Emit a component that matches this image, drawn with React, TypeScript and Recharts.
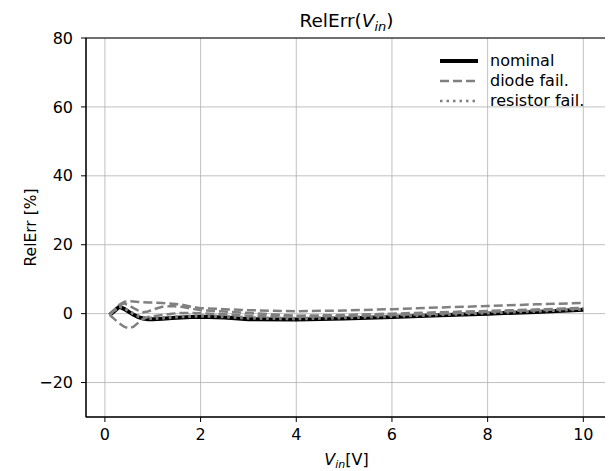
import React from 'react';
import { LineChart, Line, XAxis, YAxis, CartesianGrid } from 'recharts';

const xValues = [0.1, 0.2, 0.3, 0.4, 0.5, 0.6, 0.7, 0.8, 0.9, 1.0, 1.2, 1.4, 1.6, 1.8, 2.0, 2.5, 3, 4, 5, 6, 7, 8, 9, 10];
const nominal = [-0.4, 0.8, 2.0, 1.4, 0.5, -0.3, -1.0, -1.4, -1.6, -1.6, -1.5, -1.3, -1.1, -1.0, -0.9, -1.1, -1.6, -1.7, -1.4, -1.0, -0.5, 0.0, 0.5, 1.1];
const diodeA = [-0.4, 1.2, 2.6, 3.4, 3.6, 3.5, 3.4, 3.3, 3.2, 3.2, 3.1, 2.9, 2.6, 2.0, 1.6, 1.3, 1.0, 0.7, 0.9, 1.3, 1.8, 2.2, 2.7, 3.1];
const diodeB = [-0.4, -1.6, -2.8, -3.8, -4.3, -3.8, -2.6, -1.5, -1.0, -0.8, -0.4, 0.0, 0.2, 0.2, 0.1, -0.2, -0.6, -0.9, -0.7, -0.4, 0.0, 0.5, 1.0, 1.5];
const diodeC = [-0.4, 1.0, 2.3, 3.0, 2.4, 1.6, 0.9, 0.4, 0.6, 1.2, 2.0, 2.2, 2.0, 1.5, 1.0, 0.6, 0.2, -0.6, -0.4, 0.0, 0.4, 0.8, 1.2, 1.7];
const resistorA = [-0.4, 0.9, 2.1, 1.6, 0.8, 0.1, -0.6, -1.0, -1.2, -1.2, -1.1, -0.9, -0.7, -0.6, -0.5, -0.7, -1.1, -1.3, -1.0, -0.6, -0.2, 0.3, 0.8, 1.3];
const resistorB = [-0.4, 0.8, 2.0, 1.5, 0.6, -0.2, -0.9, -1.3, -1.5, -1.5, -1.4, -1.2, -1.0, -0.9, -0.8, -1.0, -1.4, -1.6, -1.3, -0.9, -0.4, 0.1, 0.6, 1.2];

const xTicks = [0, 2, 4, 6, 8, 10];
const yTicks = [-20, 0, 20, 40, 60, 80];
const xDomain = [-0.395, 10.495];
const yDomain = [-30, 80];

const legendItems = [
  { label: 'nominal', color: '#000000', width: 4, dash: undefined as string | undefined },
  { label: 'diode fail.', color: '#808080', width: 2.5, dash: '9 4' },
  { label: 'resistor fail.', color: '#808080', width: 2.5, dash: '2.5 4' },
];

const data = xValues.map((x, i) => ({
  x,
  nominal: nominal[i],
  diodeA: diodeA[i],
  diodeB: diodeB[i],
  diodeC: diodeC[i],
  resistorA: resistorA[i],
  resistorB: resistorB[i],
}));

const FONT = '"DejaVu Sans", sans-serif';
const W = 605;
const H = 463;
const PLOT = { left: 78, top: 30, right: 599, bottom: 409 };

const fmt = (v: number) => (v < 0 ? '\u2212' + Math.abs(v) : String(v));

export default function App() {
  return (
    <div style={{ position: 'relative', width: W, height: H, fontFamily: FONT }}>
      <LineChart
        width={W}
        height={H}
        data={data}
        margin={{ top: PLOT.top, right: W - PLOT.right, bottom: H - PLOT.bottom - 30, left: 0 }}
      >
        <CartesianGrid stroke="#b0b0b0" strokeWidth={0.8} />
        <XAxis
          dataKey="x"
          type="number"
          domain={xDomain}
          ticks={xTicks}
          allowDataOverflow
          height={30}
          tickFormatter={fmt}
          tick={{ fill: '#000', fontSize: 16, fontFamily: FONT }}
          tickSize={5}
          tickMargin={7}
          axisLine={{ stroke: '#000', strokeWidth: 1 }}
          tickLine={{ stroke: '#000', strokeWidth: 1 }}
        />
        <YAxis
          type="number"
          domain={yDomain}
          ticks={yTicks}
          allowDataOverflow
          width={PLOT.left}
          tickFormatter={fmt}
          tick={{ fill: '#000', fontSize: 16, fontFamily: FONT }}
          tickSize={5}
          tickMargin={8}
          axisLine={{ stroke: '#000', strokeWidth: 1 }}
          tickLine={{ stroke: '#000', strokeWidth: 1 }}
        />
        <Line dataKey="nominal" stroke="#000" strokeWidth={4} dot={false} isAnimationActive={false} type="linear" />
        <Line dataKey="diodeA" stroke="#808080" strokeWidth={2.5} strokeDasharray="9 4" dot={false} isAnimationActive={false} type="linear" />
        <Line dataKey="diodeB" stroke="#808080" strokeWidth={2.5} strokeDasharray="9 4" dot={false} isAnimationActive={false} type="linear" />
        <Line dataKey="diodeC" stroke="#808080" strokeWidth={2.5} strokeDasharray="9 4" dot={false} isAnimationActive={false} type="linear" />
        <Line dataKey="resistorA" stroke="#808080" strokeWidth={2.5} strokeDasharray="2.5 4" dot={false} isAnimationActive={false} type="linear" />
        <Line dataKey="resistorB" stroke="#808080" strokeWidth={2.5} strokeDasharray="2.5 4" dot={false} isAnimationActive={false} type="linear" />
      </LineChart>
      <svg
        width={W}
        height={H}
        style={{ position: 'absolute', left: 0, top: 0, pointerEvents: 'none' }}
      >
        <rect
          x={PLOT.left}
          y={PLOT.top}
          width={PLOT.right - PLOT.left}
          height={PLOT.bottom - PLOT.top}
          fill="none"
          stroke="#000"
          strokeWidth={1}
        />
        <text x={(PLOT.left + PLOT.right) / 2} y={19} textAnchor="middle" fontSize={18.5} fontFamily={FONT} fill="#000">
          RelErr(<tspan fontStyle="italic">V</tspan>
          <tspan fontStyle="italic" fontSize={13} dy={4}>in</tspan>
          <tspan dy={-4}>)</tspan>
        </text>
        <text x={(PLOT.left + PLOT.right) / 2} y={457} textAnchor="middle" fontSize={16} fontFamily={FONT} fill="#000">
          <tspan fontStyle="italic">V</tspan>
          <tspan fontStyle="italic" fontSize={11} dy={3}>in</tspan>
          <tspan dy={-3}>[V]</tspan>
        </text>
        <text
          x={28}
          y={(PLOT.top + PLOT.bottom) / 2}
          textAnchor="middle"
          fontSize={15.5}
          fontFamily={FONT}
          fill="#000"
          transform={`rotate(-90 28 ${(PLOT.top + PLOT.bottom) / 2})`}
        >
          RelErr [%]
        </text>
        {legendItems.map((it, i) => {
          const y = 53 + i * 20;
          return (
            <g key={it.label}>
              <line x1={432} x2={470} y1={y} y2={y} stroke={it.color} strokeWidth={it.width} strokeDasharray={it.dash} />
              <text x={482} y={y + 5} fontSize={16} fontFamily={FONT} fill="#000">
                {it.label}
              </text>
            </g>
          );
        })}
      </svg>
    </div>
  );
}
